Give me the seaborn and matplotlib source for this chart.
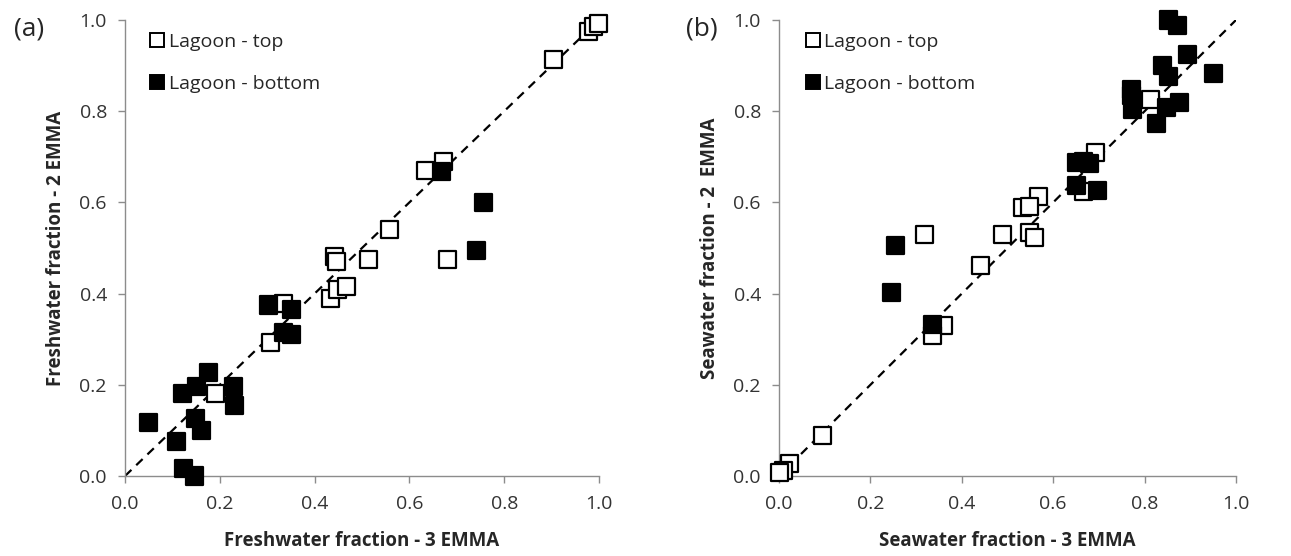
import numpy as np
import pandas as pd
import matplotlib
matplotlib.use("Agg")
import matplotlib.pyplot as plt
import seaborn as sns
from matplotlib.lines import Line2D
from matplotlib.ticker import FormatStrFormatter

# panel (a): freshwater fraction, 3 EMMA (x) vs 2 EMMA (y)
fw_top_x = [0.977, 0.988, 0.998, 0.905, 0.635, 0.671, 0.559, 0.681, 0.513, 0.443,
            0.447, 0.433, 0.449, 0.468, 0.334, 0.307, 0.190]
fw_top_y = [0.975, 0.985, 0.992, 0.914, 0.669, 0.690, 0.541, 0.474, 0.474, 0.482,
            0.470, 0.390, 0.410, 0.415, 0.379, 0.292, 0.180]
fw_bot_x = [0.668, 0.756, 0.742, 0.302, 0.352, 0.334, 0.352, 0.176, 0.151, 0.121,
            0.228, 0.231, 0.049, 0.148, 0.162, 0.108, 0.124, 0.146]
fw_bot_y = [0.667, 0.600, 0.494, 0.375, 0.365, 0.314, 0.311, 0.227, 0.197, 0.180,
            0.197, 0.155, 0.118, 0.127, 0.099, 0.075, 0.017, 0.000]

# panel (b): seawater fraction, 3 EMMA (x) vs 2 EMMA (y)
sw_top_x = [0.812, 0.693, 0.666, 0.567, 0.532, 0.549, 0.549, 0.558, 0.490, 0.319,
            0.442, 0.359, 0.335, 0.096, 0.022, 0.009, 0.002]
sw_top_y = [0.825, 0.709, 0.623, 0.613, 0.588, 0.590, 0.533, 0.522, 0.529, 0.529,
            0.461, 0.329, 0.309, 0.088, 0.028, 0.013, 0.007]
sw_bot_x = [0.853, 0.873, 0.893, 0.840, 0.853, 0.950, 0.772, 0.772, 0.774, 0.877,
            0.849, 0.825, 0.652, 0.667, 0.680, 0.652, 0.698, 0.256, 0.247, 0.335]
sw_bot_y = [1.000, 0.987, 0.925, 0.901, 0.876, 0.883, 0.848, 0.835, 0.803, 0.819,
            0.809, 0.774, 0.687, 0.690, 0.685, 0.638, 0.626, 0.505, 0.402, 0.333]

groups = ["Lagoon - top", "Lagoon - bottom"]
fills = {"Lagoon - top": "white", "Lagoon - bottom": "black"}


def make_df(tx, ty, bx, by):
    top = pd.DataFrame({"x": tx, "y": ty, "group": groups[0]})
    bot = pd.DataFrame({"x": bx, "y": by, "group": groups[1]})
    return pd.concat([top, bot], ignore_index=True)


sns.set_theme(style="white")
plt.rcParams["font.family"] = ["Open Sans", "DejaVu Sans"]

fig = plt.figure(figsize=(12.91, 5.56), dpi=100)
ax_a = fig.add_axes([125 / 1291, 80 / 556, 474 / 1291, 456 / 556])
ax_b = fig.add_axes([779 / 1291, 80 / 556, 457 / 1291, 456 / 556])

panels = [
    (ax_a, make_df(fw_top_x, fw_top_y, fw_bot_x, fw_bot_y),
     "Freshwater fraction - 3 EMMA", "Freshwater fraction - 2 EMMA", "(a)", 14, 0.053),
    (ax_b, make_df(sw_top_x, sw_top_y, sw_bot_x, sw_bot_y),
     "Seawater fraction - 3 EMMA", "Seawater fraction - 2  EMMA", "(b)", 686, 0.059),
]

for ax, df, xl, yl, tag, tag_x, leg_x in panels:
    ax.plot([0, 1], [0, 1], color="black", lw=1.6, ls=(0, (4, 3)), zorder=1)
    sns.scatterplot(data=df, x="x", y="y", hue="group", palette=fills,
                    hue_order=groups, marker="s", s=150, edgecolor="black",
                    linewidth=1.6, clip_on=False, legend=False, ax=ax, zorder=3)
    ax.set_xlim(0, 1)
    ax.set_ylim(0, 1)
    ax.set_xticks(np.arange(0, 1.01, 0.2))
    ax.set_yticks(np.arange(0, 1.01, 0.2))
    ax.xaxis.set_major_formatter(FormatStrFormatter("%.1f"))
    ax.yaxis.set_major_formatter(FormatStrFormatter("%.1f"))
    for side in ["top", "right"]:
        ax.spines[side].set_visible(False)
    for side in ["left", "bottom"]:
        ax.spines[side].set_color("#8c8c8c")
        ax.spines[side].set_linewidth(1)
    ax.tick_params(axis="both", which="major", direction="out", length=5,
                   width=1, color="#8c8c8c", labelsize=14, labelcolor="#333333",
                   bottom=True, left=True)
    ax.tick_params(axis="x", pad=9)
    ax.tick_params(axis="y", pad=8)
    ax.set_xlabel(xl, fontsize=13.5, fontweight="bold", labelpad=13)
    ax.set_ylabel(yl, fontsize=13.5, fontweight="bold", labelpad=10)

    handles = [Line2D([], [], marker="s", ls="none", markersize=10.5,
                      markerfacecolor=fills[g], markeredgecolor="black",
                      markeredgewidth=1.4) for g in groups]
    ax.legend(handles, groups, loc="upper left", bbox_to_anchor=(leg_x, 0.972),
              frameon=False, fontsize=14, handlelength=0.7, handletextpad=0.25,
              borderpad=0, borderaxespad=0, labelspacing=1.25)

    fig.text(tag_x / 1291, 1 - 29 / 556, tag, fontsize=19, va="center", ha="left")

fig.savefig("out.png", dpi=100)
